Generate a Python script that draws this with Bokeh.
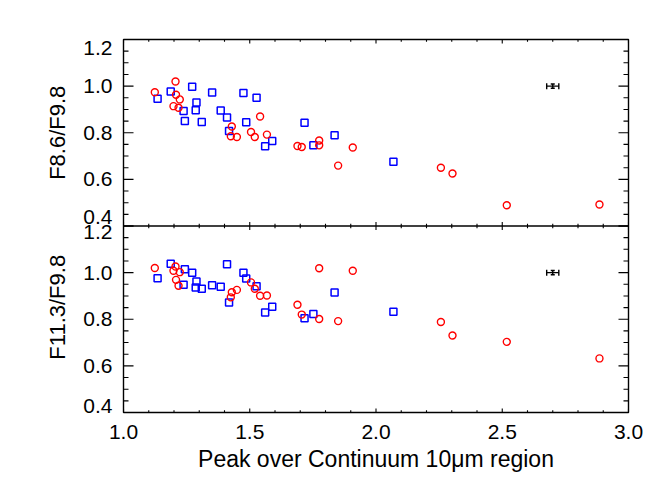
import math
from bokeh.plotting import figure
from bokeh.models import (LinearAxis, SingleIntervalTicker, FixedTicker, PrintfTickFormatter,
                          CustomJSTickFormatter, Whisker, TeeHead, ColumnDataSource, Range1d,
                          Span, Label)
from bokeh.embed import file_html
from bokeh.resources import INLINE

# ---- data ----
red_x = [1.124, 1.198, 1.206, 1.208, 1.218, 1.223, 1.425, 1.429, 1.449, 1.505, 1.520,
         1.541, 1.568, 1.689, 1.706, 1.775, 1.775, 1.850, 1.908, 2.257, 2.303, 2.518, 2.885]
red_f86 = [0.974, 0.914, 1.020, 0.963, 0.907, 0.943, 0.785, 0.827, 0.782, 0.803, 0.782,
           0.870, 0.792, 0.743, 0.739, 0.767, 0.746, 0.659, 0.737, 0.650, 0.625, 0.489, 0.492]
red_f113 = [1.020, 1.008, 1.026, 0.969, 0.944, 1.002, 0.894, 0.916, 0.926, 0.958, 0.931,
            0.901, 0.902, 0.862, 0.820, 1.019, 0.801, 0.792, 1.008, 0.788, 0.730, 0.703, 0.632]

blue_x = [1.135, 1.187, 1.238, 1.243, 1.272, 1.286, 1.289, 1.310, 1.351, 1.385, 1.410,
          1.418, 1.475, 1.486, 1.527, 1.561, 1.589, 1.717, 1.752, 1.836, 2.069]
blue_f86 = [0.946, 0.977, 0.893, 0.850, 0.997, 0.897, 0.930, 0.846, 0.973, 0.895, 0.865,
            0.807, 0.970, 0.845, 0.950, 0.742, 0.765, 0.843, 0.746, 0.789, 0.676]
blue_f113 = [0.976, 1.038, 0.948, 1.015, 1.000, 0.936, 0.962, 0.931, 0.946, 0.939, 1.036,
             0.872, 1.000, 0.975, 0.942, 0.829, 0.854, 0.804, 0.822, 0.915, 0.832]

err_x = [2.70]
err_y = [1.00]
err_dx = [0.024]
err_dy = [0.009]

x_major = [1.0, 1.5, 2.0, 2.5, 3.0]
y_major = [0.4, 0.6, 0.8, 1.0, 1.2]
x_label = "Peak over Continuum 10\u03bcm region"
y_labels = ["F8.6/F9.8", "F11.3/F9.8"]

FONT = "Liberation Sans"
TICK_FS = "21px"
YTITLE_FS = "22px"
XTITLE_FS = "23px"

X0, X1 = 1.0, 3.0
Y0, Y1 = 0.4, 1.2
FRAME_W, FRAME_H = 505, 373
ML, MT, MB, MR = 123, 39, 70, 30

# One frame holding both panels: the lower panel uses the default y range,
# the upper panel uses the "top" range (each panel spans Y0..Y1).
span = Y1 - Y0
p = figure(width=ML + FRAME_W + MR, height=MT + FRAME_H + MB,
           x_range=Range1d(X0, X1), y_range=Range1d(Y0, Y1 + span),
           x_axis_type=None, y_axis_type=None, output_backend="svg",
           toolbar_location=None, min_border_left=ML, min_border_right=MR,
           min_border_top=MT, min_border_bottom=MB)
p.extra_y_ranges = {"top": Range1d(Y0 - span, Y1)}
p.outline_line_color = "black"
p.outline_line_width = 1.4
p.background_fill_color = "white"
p.border_fill_color = "white"

px_x = FRAME_W / (X1 - X0)
px_y = FRAME_H / (2 * span)

# ---- x axis (labels + title) ----
xax = LinearAxis(ticker=SingleIntervalTicker(interval=0.5, num_minor_ticks=5),
                 formatter=PrintfTickFormatter(format="%.1f"))
xax.major_tick_in = 0
xax.major_tick_out = 0
xax.minor_tick_in = 0
xax.minor_tick_out = 0
xax.axis_line_color = None
xax.major_label_text_font = FONT
xax.major_label_text_font_size = TICK_FS
xax.major_label_text_color = "black"
xax.major_label_standoff = 12
xax.axis_label = x_label
xax.axis_label_text_font = FONT
xax.axis_label_text_font_size = XTITLE_FS
xax.axis_label_text_font_style = "normal"
xax.axis_label_text_color = "black"
xax.axis_label_standoff = 4
p.add_layout(xax, "below")

# ---- y axis labels for both panels (edge labels nudged inward as in the original) ----
bot_pos = [Y0 + 7 / px_y] + y_major[1:-1] + [Y1 - 6 / px_y]
top_pos = [v + span for v in [Y0 + 9 / px_y] + y_major[1:-1] + [Y1 - 8 / px_y]]
yax = LinearAxis(ticker=FixedTicker(ticks=bot_pos + top_pos, minor_ticks=[]),
                 formatter=CustomJSTickFormatter(
                     args=dict(b=Y1, s=span),
                     code="const v = tick > b ? tick - s : tick; return v.toFixed(1);"))
yax.major_tick_in = 0
yax.major_tick_out = 0
yax.minor_tick_in = 0
yax.minor_tick_out = 0
yax.axis_line_color = None
yax.major_label_text_font = FONT
yax.major_label_text_font_size = TICK_FS
yax.major_label_text_color = "black"
yax.major_label_standoff = 11
p.add_layout(yax, "left")

# ---- y axis titles (placed in the left side panel so they are not clipped) ----
p.add_layout(Label(x=X0, y=(Y0 + Y1) / 2, y_range_name="top", x_offset=-66,
                   text=y_labels[0], angle=math.pi / 2, text_align="center",
                   text_baseline="middle", text_font=FONT, text_font_size=YTITLE_FS,
                   text_color="black"), "left")
p.add_layout(Label(x=X0, y=(Y0 + Y1) / 2, x_offset=-66, y_offset=12,
                   text=y_labels[1], angle=math.pi / 2, text_align="center",
                   text_baseline="middle", text_font=FONT, text_font_size=YTITLE_FS,
                   text_color="black"), "left")

# panel separator
p.add_layout(Span(location=Y1, dimension="width", line_color="black", line_width=1.4))

# ---- inward tick marks drawn as head-less whiskers (10/5 px on y, 4/2.3 px on x) ----
x_minor = [round(X0 + 0.1 * i, 3) for i in range(21) if i % 5]
y_minor = [round(Y0 + 0.05 * i, 3) for i in range(17) if i % 4]


def tick_whisker(base, lower, upper, dim, rng):
    kw = {} if rng is None else {"y_range_name": rng}
    src = ColumnDataSource(dict(base=base, lower=lower, upper=upper))
    p.add_layout(Whisker(source=src, base="base", lower="lower", upper="upper",
                         dimension=dim, line_color="black", line_width=1.1,
                         upper_head=None, lower_head=None, **kw))


def y_ticks(vals, length_px, rng):
    d = length_px / px_x
    n = len(vals)
    tick_whisker(list(vals) * 2, [X0] * n + [X1 - d] * n, [X0 + d] * n + [X1] * n,
                 "width", rng)


def x_ticks(vals, length_px, ybase, up, down, rng):
    d = length_px / px_y
    n = len(vals)
    tick_whisker(list(vals), [ybase - (d if down else 0)] * n,
                 [ybase + (d if up else 0)] * n, "height", rng)


for rng in (None, "top"):
    y_ticks(y_major, 10, rng)
    y_ticks(y_minor, 5, rng)
x_ticks(x_major, 4, Y0, True, False, None)
x_ticks(x_minor, 2.3, Y0, True, False, None)
x_ticks(x_major, 4, Y1, True, True, None)
x_ticks(x_minor, 2.3, Y1, True, True, None)
x_ticks(x_major, 4, Y1, False, True, "top")
x_ticks(x_minor, 2.3, Y1, False, True, "top")

# ---- data points and the typical error bar ----
for rng, bvals, rvals in (("top", blue_f86, red_f86), (None, blue_f113, red_f113)):
    kw = {} if rng is None else {"y_range_name": rng}
    p.scatter(blue_x, bvals, marker="square", size=7, fill_color=None,
              line_color="#0000ff", line_width=1.5, **kw)
    p.scatter(red_x, rvals, marker="circle", size=7, fill_color=None,
              line_color="#ff0000", line_width=1.4, **kw)

    src = ColumnDataSource(dict(
        x=err_x, y=err_y,
        xl=[a - d for a, d in zip(err_x, err_dx)], xu=[a + d for a, d in zip(err_x, err_dx)],
        yl=[a - d for a, d in zip(err_y, err_dy)], yu=[a + d for a, d in zip(err_y, err_dy)]))
    p.add_layout(Whisker(source=src, base="y", lower="xl", upper="xu", dimension="width",
                         line_color="black", line_width=1.4,
                         upper_head=TeeHead(size=6, line_color="black", line_width=1.4),
                         lower_head=TeeHead(size=6, line_color="black", line_width=1.4), **kw))
    p.add_layout(Whisker(source=src, base="x", lower="yl", upper="yu", dimension="height",
                         line_color="black", line_width=1.4,
                         upper_head=TeeHead(size=4, line_color="black", line_width=1.4),
                         lower_head=TeeHead(size=4, line_color="black", line_width=1.4), **kw))

open("out.html", "w").write(file_html(p, INLINE))
